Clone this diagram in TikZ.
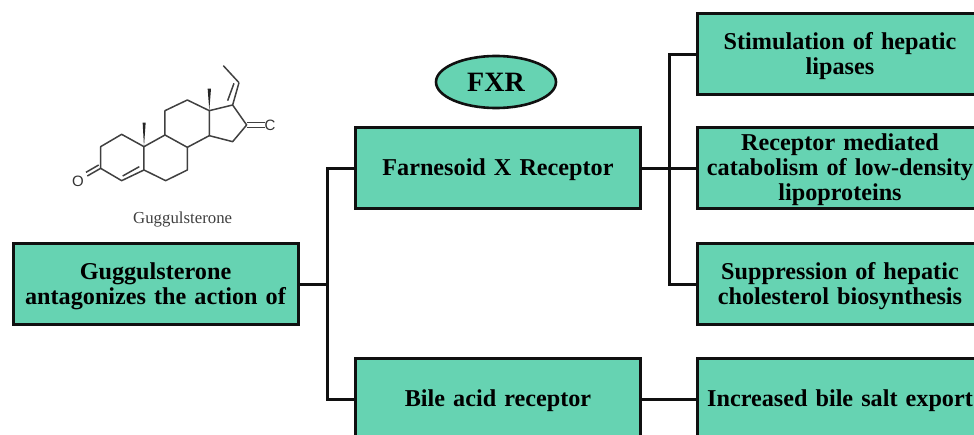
\documentclass[tikz,border=0pt]{standalone}
\usepackage{fontspec}
\setmainfont{Liberation Serif}
\newfontfamily\atomfont{Liberation Sans}
\usetikzlibrary{shapes.geometric}
\definecolor{boxgreen}{HTML}{66D3B2}
\definecolor{inkline}{HTML}{101010}
\tikzset{
  x=1pt,y=-1pt,
  greenbox/.style={draw=inkline,line width=3pt,fill=boxgreen,minimum width=285pt,minimum height=81pt,
    inner sep=0pt,align=center,text width=285pt,font=\fontsize{24.2pt}{25pt}\selectfont\bfseries,
    execute at end node={\par\vspace*{-4pt}}},
  link/.style={draw=inkline,line width=3pt},
  bond/.style={draw=black!75,line width=1.5pt,line join=round},
}
\begin{document}
\begin{tikzpicture}
\useasboundingbox (0,0) rectangle (974,434);
\clip (0,0) rectangle (974,434);
% boxes
\node[greenbox] (gug) at (155.5,284) {Guggulsterone\\antagonizes the action of};
\node[greenbox] (far) at (498,168) {Farnesoid X Receptor};
\node[greenbox] (bil) at (498,399) {Bile acid receptor};
\node[greenbox] (sti) at (840,54) {Stimulation of hepatic\\lipases};
\node[greenbox] (rec) at (840,168) {Receptor mediated\\catabolism of low-density\\lipoproteins};
\node[greenbox] (sup) at (840,284) {Suppression of hepatic\\cholesterol biosynthesis};
\node[greenbox] (inc) at (840,399) {Increased bile salt export};
\node[ellipse,draw=inkline,line width=2.6pt,fill=boxgreen,minimum width=120pt,minimum height=52pt,inner sep=0pt,
  font=\fontsize{28pt}{30pt}\selectfont\bfseries] (fxr) at (496,82) {FXR};
% connectors
\coordinate (j1) at (327,284);
\coordinate (j2) at (669,168);
\draw[link] (gug.east) -- (j1);
\draw[link] (far.west) -- (far.west -| j1) -- (bil.west -| j1) -- (bil.west);
\draw[link] (far.east) -- (rec.west);
\draw[link] (sti.west) -- (sti.west -| j2) -- (sup.west -| j2) -- (sup.west);
\draw[link] (bil.east) -- (inc.west);
% molecule
\begin{scope}[shift={(50,50)},x=0.3333pt,y=-0.3333pt]
\draw[bond] (152,290) -- (215,253) -- (282,290) -- (282,360) -- (215,392) -- (152,355) -- cycle;
\draw[bond] (282,290) -- (345,255) -- (412,292) -- (412,360) -- (347,392) -- (282,360);
\draw[bond] (345,255) -- (345,182) -- (412,150) -- (478,182) -- (478,257) -- (412,292);
\draw[bond] (478,182) -- (548,165) -- (590,225) -- (548,275) -- (478,257);
\draw[bond] (218,378) -- (268,350);
\draw[bond] (152,355) -- (112,378) (146,345) -- (108,367);
\draw[bond] (590,217) -- (645,217) (590,232) -- (645,232);
\draw[bond] (548,165) -- (567,98) (533,152) -- (552,100);
\draw[bond] (567,98) -- (520,47);
\fill[black!85] (278,218) -- (287,218) -- (282,290) -- cycle;
\fill[black!85] (473,116) -- (483,116) -- (478,182) -- cycle;
\node[font=\fontsize{15pt}{15pt}\atomfont,text=black!80,inner sep=0pt] (oxy) at (84,395) {O};
\node[font=\fontsize{15pt}{15pt}\atomfont,text=black!80,inner sep=0pt] (car) at (660,225) {C};
\node[font=\fontsize{16.8pt}{17pt}\selectfont,text=black!75,inner sep=0pt] (lab) at (398,507) {Guggulsterone};
\end{scope}
\end{tikzpicture}
\end{document}
